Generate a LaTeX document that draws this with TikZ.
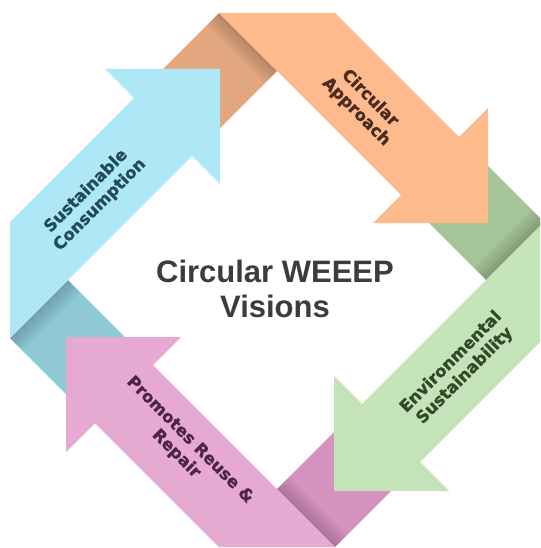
\documentclass[tikz,border=0pt]{standalone}
\usepackage{fontspec}
\newfontfamily\ctrfont{Liberation Sans}
\newfontfamily\arrfont{DejaVu Sans}[BoldFeatures={FakeBold=1.2}]
\definecolor{orL}{HTML}{FDBA8C}
\definecolor{orD}{HTML}{E2A77E}
\definecolor{grL}{HTML}{C5E3B9}
\definecolor{grD}{HTML}{A5C498}
\definecolor{piL}{HTML}{E6A9D1}
\definecolor{piD}{HTML}{D692BF}
\definecolor{blL}{HTML}{AEE8F6}
\definecolor{blD}{HTML}{8EC9D5}
\definecolor{orT}{HTML}{4A2C1F}
\definecolor{grT}{HTML}{2F4A2B}
\definecolor{piT}{HTML}{4D2543}
\definecolor{blT}{HTML}{234B55}
\definecolor{ctrT}{HTML}{3C3C3C}
\tikzset{
  lbl/.style={font=\arrfont\bfseries\fontsize{16.5}{19.5}\selectfont, align=center, inner sep=0pt},
  title/.style={font=\ctrfont\bfseries\fontsize{31}{35}\selectfont, text=ctrT, align=center, inner sep=0pt}
}
\begin{document}
\begin{tikzpicture}[x=1pt,y=1pt]
\useasboundingbox (0,0) rectangle (540,-548);
\clip (0,0) rectangle (540,-548);
\fill[white] (0,0) rectangle (540,-548);
\begin{scope}[shift={(277,-280)}]
  % dark fold pieces
  \foreach \ang/\col in {0/orD,-90/grD,-180/piD,90/blD}{
    \begin{scope}[rotate=\ang]
      \fill[\col] (-58,267) -- (0,209) -- (-58,151) -- (-116,209) -- cycle;
      \foreach \i in {1,...,8}{
        \fill[black,opacity=0.025] (-58,267) -- (0,209) -- ++(-1.6*\i,-1.6*\i) -- (-58-1.6*\i,267-1.6*\i) -- cycle;
      }
    \end{scope}
  }
  % light arrows
  \foreach \ang/\col in {0/orL,-90/grL,-180/piL,90/blL}{
    \begin{scope}[rotate=\ang]
      \fill[\col] (-58,267) -- (58,267) -- (182,143) -- (211,172) -- (211,57) -- (96,57) -- (124,85) -- cycle;
    \end{scope}
  }
\end{scope}
\node[lbl, text=blT, rotate=45] (sc) at (93,-198) {Sustainable\\Consumption};
\node[lbl, text=orT, rotate=-45] (ca) at (363,-105) {Circular\\Approach};
\node[lbl, text=grT, rotate=45] (es) at (458,-369) {Environmental\\Sustainability};
\node[lbl, text=piT, rotate=-45] (rr) at (183,-447) {Promotes Reuse \&\\Repair};
\node[title] (ttl) at (275,-289) {Circular WEEEP\\Visions};
\end{tikzpicture}
\end{document}
